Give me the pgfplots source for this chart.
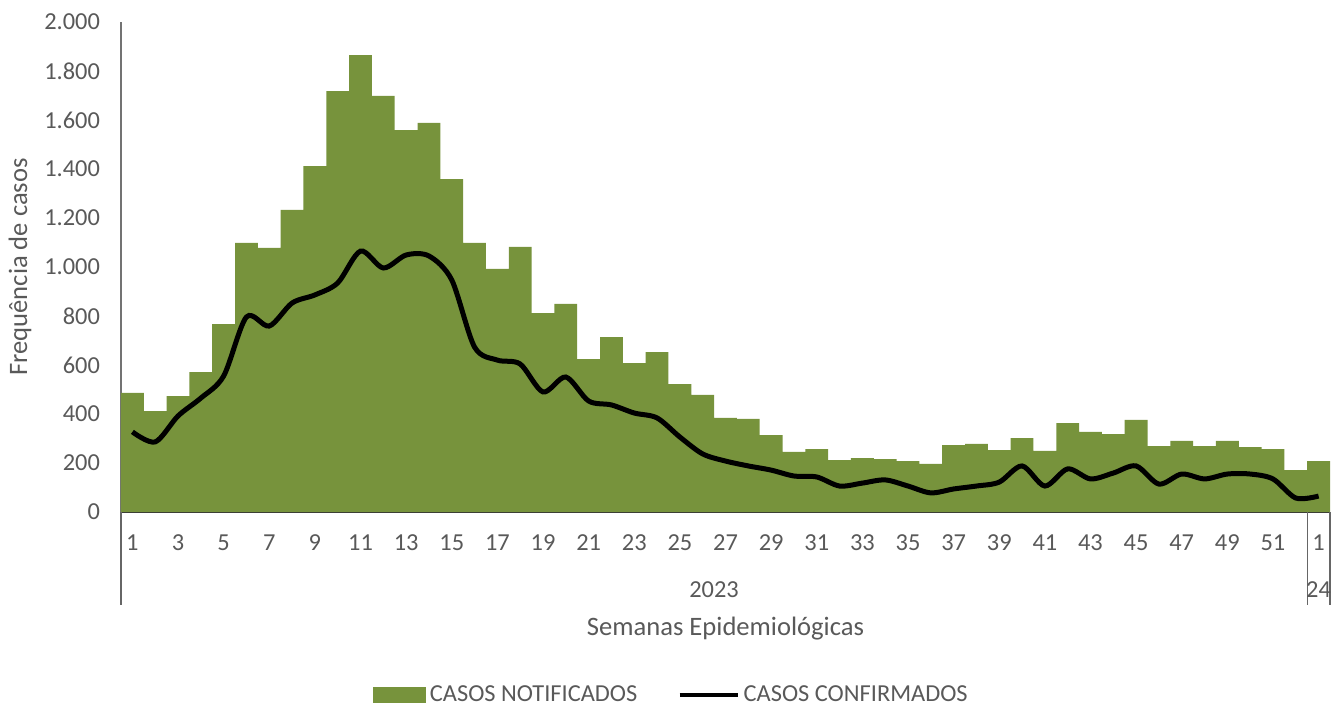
\documentclass[border=0pt]{standalone}
\usepackage{fontspec}
\setmainfont{Carlito}
\usepackage{pgfplots}
\pgfplotsset{compat=1.18}
\definecolor{barGreen}{HTML}{77933C}
\definecolor{txt}{HTML}{595959}

\pgfplotstableread{
w  notif conf
1  486  327
2  412  286
3  473  392
4  571  465
5  767  555
6  1098 796
7  1078 759
8  1233 853
9  1412 886
10 1718 935
11 1865 1065
12 1698 996
13 1559 1049
14 1588 1045
15 1359 947
16 1098 673
17 992  620
18 1082 604
19 812  490
20 849  551
21 624  453
22 714  437
23 608  404
24 653  384
25 522  306
26 478  237
27 384  208
28 380  188
29 314  171
30 245  147
31 257  143
32 212  106
33 220  118
34 216  131
35 208  106
36 196  78
37 273  94
38 278  106
39 253  122
40 302  188
41 249  106
42 363  176
43 327  135
44 318  159
45 376  188
46 269  114
47 290  155
48 269  135
49 290  155
50 265  155
51 257  135
52 171  57
53 208  65
}\dados

\begin{document}
\begin{tikzpicture}
\path[use as bounding box] (-60.5pt,-97pt) rectangle (605.5pt,256pt);
\begin{axis}[
  scale only axis,
  width=604.5pt, height=245pt,
  xmin=0.5, xmax=53.5,
  ymin=0, ymax=2000,
  clip=false,
  font=\fontsize{12.2}{14}\selectfont,
  axis x line*=bottom,
  axis y line*=left,
  x axis line style={black!80, line width=0.8pt, -},
  y axis line style={black!55, line width=0.6pt, -},
  major tick length=0pt,
  xtick={1,3,5,7,9,11,13,15,17,19,21,23,25,27,29,31,33,35,37,39,41,43,45,47,49,51,53},
  xticklabels={1,3,5,7,9,11,13,15,17,19,21,23,25,27,29,31,33,35,37,39,41,43,45,47,49,51,1},
  ytick={0,200,...,2000},
  xticklabel style={text=txt, yshift=-8pt},
  yticklabel style={text=txt, xshift=-7pt},
  /pgf/number format/.cd, 1000 sep={.}, use comma, assume math mode=true,
  /pgfplots/.cd,
  ylabel={Frequência de casos},
  ylabel style={font=\fontsize{13.3}{16}\selectfont, text=txt, at={(axis description cs:-0.0835,0.5)}, anchor=center},
  xlabel={Semanas Epidemiológicas},
  xlabel style={font=\fontsize{13.3}{16}\selectfont, text=txt, at={(axis description cs:0.5,-0.237)}, anchor=center},
  legend style={draw=none, legend columns=2, text=txt, fill=none, inner sep=1pt,
    at={(axis description cs:0.456,-0.374)}, anchor=center,
    /tikz/every even column/.append style={column sep=18pt}},
]
\addplot[ybar, bar width=1, bar shift=0pt, fill=barGreen, draw=none,
  legend image code/.code={\fill[barGreen] (0pt,-4pt) rectangle (26.5pt,4pt);}]
  table[x=w, y=notif] {\dados};
\addlegendentry{CASOS NOTIFICADOS}
\addplot[black, line width=2.5pt, smooth, no markers,
  legend image code/.code={\draw[line width=2.2pt] (0pt,0pt) -- (29pt,0pt);}]
  table[x=w, y=conf] {\dados};
\addlegendentry{CASOS CONFIRMADOS}
\draw[black!60, line width=0.6pt] (axis cs:52.5,0) -- ([yshift=-46.5pt]axis cs:52.5,0);
\draw[black!60, line width=0.6pt] (axis cs:53.5,0) -- ([yshift=-46.5pt]axis cs:53.5,0);
\draw[black!60, line width=0.6pt] (axis cs:0.5,0) -- ([yshift=-46.5pt]axis cs:0.5,0);
\node[text=txt, anchor=center] at ([yshift=-39pt]axis cs:26.5,0) {2023};
\node[text=txt, anchor=center] at ([yshift=-39pt]axis cs:53,0) {24};
\end{axis}
\end{tikzpicture}
\end{document}
